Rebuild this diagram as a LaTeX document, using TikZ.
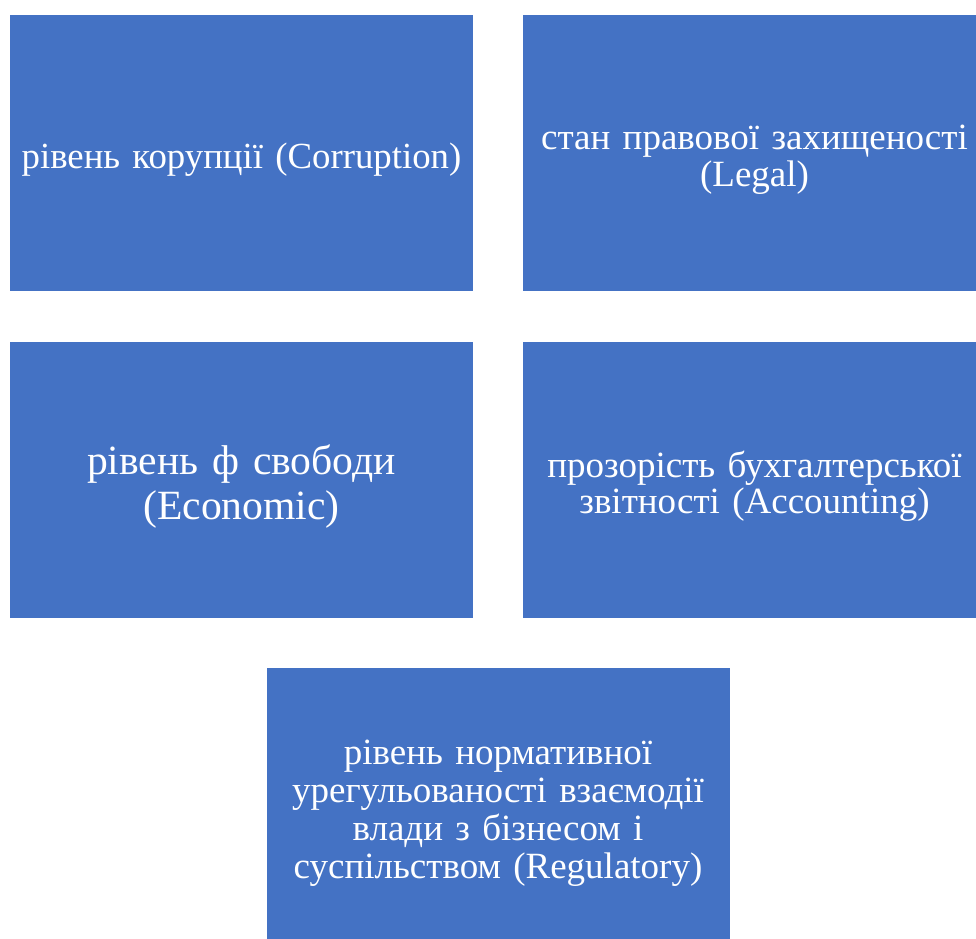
\documentclass[tikz,border=0pt]{standalone}
\usepackage{fontspec}
\setmainfont{Liberation Serif}
\definecolor{boxblue}{HTML}{4472C4}

\begin{document}
\begin{tikzpicture}[x=1pt, y=-1pt,
  factor/.style={fill=boxblue, text=white, align=center, inner sep=0pt,
    minimum width=463pt, minimum height=276pt, text width=458pt,
    execute at begin node={\rule{0pt}{1.05em}}}]
  % page frame
  \useasboundingbox (0,0) rectangle (976,938);
  \clip (0,0) rectangle (976,938);
  % top row
  \node[factor, font=\fontsize{36.8}{37}\selectfont] (corr) at (241.5,153) {рівень корупції (Corruption)};
  \node[factor, font=\fontsize{37}{37}\selectfont] (legal) at (754.5,153) {стан правової захищеності\\(Legal)};
  % middle row
  \node[factor, font=\fontsize{41.6}{45}\selectfont] (econ) at (241.5,480) {рівень ф свободи\\(Economic)};
  \node[factor, font=\fontsize{37}{36}\selectfont] (acct) at (754.5,480) {прозорість бухгалтерської\\звітності (Accounting)};
  % bottom box
  \node[factor, font=\fontsize{37}{38}\selectfont] (reg) at (498,806) {рівень нормативної\\урегульованості взаємодії\\влади з бізнесом і\\суспільством (Regulatory)};
\end{tikzpicture}
\end{document}
